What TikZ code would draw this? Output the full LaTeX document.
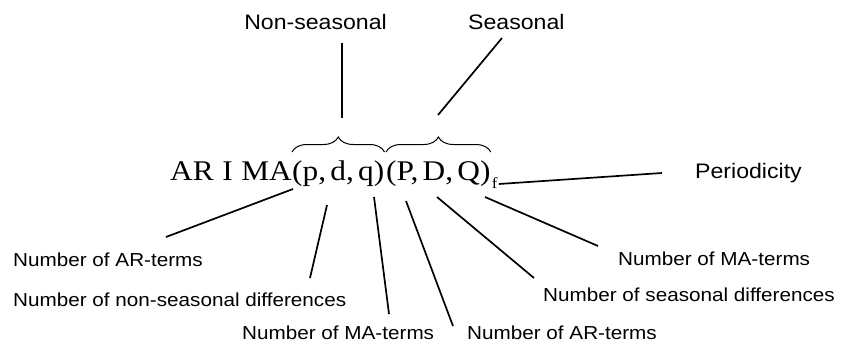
\documentclass[tikz,border=0pt]{standalone}
\usepackage{fontspec}
\usetikzlibrary{decorations.pathreplacing}

\newfontfamily\lblfont{Liberation Sans}[FakeStretch=1.1]
\newfontfamily\eqfont{Liberation Serif}[FakeStretch=1.1]

\tikzset{
  lbl/.style={font=\lblfont\fontsize{18.8}{21}\selectfont, inner sep=0pt, anchor=base west},
  biglbl/.style={font=\lblfont\fontsize{21}{23}\selectfont, inner sep=0pt},
  eqpart/.style={font=\eqfont\fontsize{28.5}{31}\selectfont, inner sep=0pt, anchor=base west},
  eqsub/.style={font=\eqfont\fontsize{15.5}{17}\selectfont, inner sep=0pt, anchor=base west},
  conn/.style={line width=1.7pt},
  grp/.style={decorate, decoration={brace, amplitude=15pt}, line width=1pt}
}

\begin{document}
\begin{tikzpicture}[x=1pt, y=-1pt]
\useasboundingbox (0,0) rectangle (846,345);

% the model formula
\node[eqpart] (arima) at (170,180) {AR\hspace{0.3em}I\hspace{0.3em}MA};
\node[eqpart] (pdq) at (292,180) {(p,\hspace{0.15em}d,\hspace{0.15em}q)};
\node[eqpart, xshift=1.5pt] (PDQ) at (pdq.base east) {(P,\hspace{0.15em}D,\hspace{0.15em}Q)};
\node[eqsub, xshift=1pt] (f) at ([yshift=-8pt]PDQ.base east) {f};

% braces over the two groups
\draw[grp] (pdq.west |- 0,152) -- (pdq.east |- 0,152);
\draw[grp] (PDQ.west |- 0,152) -- (PDQ.east |- 0,152);

% labels
\node[biglbl, anchor=base east] (nonseas) at (387,30) {Non-seasonal};
\node[biglbl, anchor=base west] (seas) at (468,30) {Seasonal};
\node[biglbl, anchor=base west] (period) at (695,178) {Periodicity};
\node[lbl] (arNS) at (13,266) {Number of AR-terms};
\node[lbl] (diffNS) at (13,306) {Number of non-seasonal differences};
\node[lbl] (maNS) at (242,339) {Number of MA-terms};
\node[lbl] (arS) at (467,339) {Number of AR-terms};
\node[lbl] (diffS) at (543,301) {Number of seasonal differences};
\node[lbl] (maS) at (618,265) {Number of MA-terms};

% connector ends
\coordinate (nsTop) at (342,43);
\coordinate (nsTip) at (342,118);
\coordinate (sTop) at (502,38);
\coordinate (sTip) at (438,115);
\coordinate (fEnd) at ([xshift=1pt, yshift=4pt]f.base east);
\coordinate (perEnd) at (662,173);
\coordinate (pEnd) at (293,189);
\coordinate (dEnd) at (327,205);
\coordinate (qEnd) at (374,197);
\coordinate (PEnd) at (406,201);
\coordinate (DEnd) at (437,197);
\coordinate (QEnd) at (485,197);
\coordinate (arNSEnd) at (166,237);
\coordinate (diffNSEnd) at (310,278);
\coordinate (maNSEnd) at (389,314);
\coordinate (arSEnd) at (453,326);
\coordinate (diffSEnd) at (534,278);
\coordinate (maSEnd) at (598,246);

\draw[conn] (nsTop) -- (nsTip);
\draw[conn] (sTop) -- (sTip);
\draw[conn] (fEnd) -- (perEnd);
\draw[conn] (pEnd) -- (arNSEnd);
\draw[conn] (dEnd) -- (diffNSEnd);
\draw[conn] (qEnd) -- (maNSEnd);
\draw[conn] (PEnd) -- (arSEnd);
\draw[conn] (DEnd) -- (diffSEnd);
\draw[conn] (QEnd) -- (maSEnd);
\end{tikzpicture}
\end{document}
